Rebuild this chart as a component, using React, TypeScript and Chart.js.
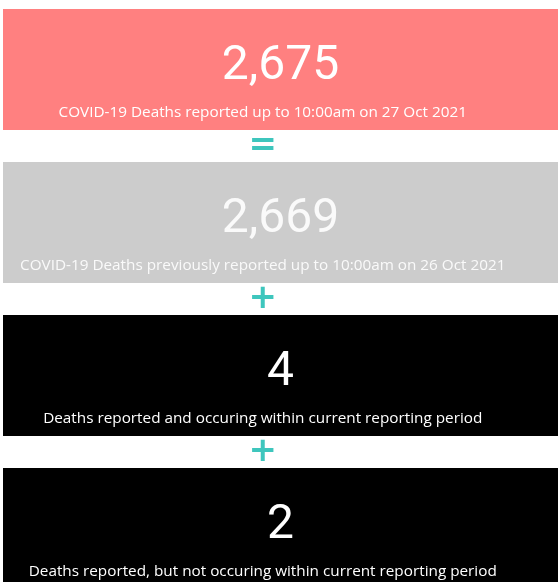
import React, { useEffect, useRef } from 'react';
import { Chart, registerables } from 'chart.js';

Chart.register(...registerables);

const categories = ['Total to date', 'Previously reported', 'Within current period', 'Outside current period'];
const values = [2675, 2669, 4, 2];
const descriptions = [
  'COVID-19 Deaths reported up to 10:00am on 27 Oct 2021',
  'COVID-19 Deaths previously reported up to 10:00am on 26 Oct 2021',
  'Deaths reported and occuring within current reporting period',
  'Deaths reported, but not occuring within current reporting period',
];
const operators = ['=', '+', '+'];
const panelColors = ['#FF8080', '#CCCCCC', '#000000', '#000000'];
const textColors = ['#FFFFFF', '#FAFAFA', '#FFFFFF', '#FFFFFF'];

const cardText = {
  id: 'cardText',
  afterDatasetsDraw(chart: any) {
    const { ctx, chartArea } = chart;
    const meta = chart.getDatasetMeta(0);
    const w = chartArea.right - chartArea.left;
    const numX = chartArea.left + w * 0.5;
    const labX = chartArea.left + w * 0.468;
    ctx.save();
    ctx.textAlign = 'center';
    ctx.textBaseline = 'middle';
    meta.data.forEach((bar: any, i: number) => {
      const cy = bar.y;
      ctx.fillStyle = textColors[i];
      ctx.font = '400 48px Roboto';
      ctx.fillText(values[i].toLocaleString('en-US'), numX, cy - 3);
      ctx.font = '15.3px "Open Sans"';
      ctx.fillText(descriptions[i], labX, cy + 43);
    });
    ctx.fillStyle = '#3EC6BD';
    ctx.font = 'bold 34px "DejaVu Sans"';
    operators.forEach((op, i) => {
      const a = meta.data[i];
      const b = meta.data[i + 1];
      if (!a || !b) return;
      const my = (a.y + b.y) / 2;
      ctx.fillText(op, labX, my);
    });
    ctx.restore();
  },
};

export default function App() {
  const ref = useRef<HTMLCanvasElement>(null);
  useEffect(() => {
    document.body.style.margin = '0';
    document.body.style.overflow = 'hidden';
    const chart = new Chart(ref.current!, {
      type: 'bar',
      data: {
        labels: categories,
        datasets: [
          {
            label: 'Deaths',
            data: categories.map(() => 1),
            backgroundColor: panelColors,
            borderWidth: 0,
            barPercentage: 0.79,
            categoryPercentage: 1,
          },
        ],
      },
      options: {
        indexAxis: 'y',
        responsive: false,
        animation: false,
        layout: { padding: 0 },
        plugins: { legend: { display: false }, tooltip: { enabled: false }, title: { display: false } },
        scales: {
          x: { display: false, min: 0, max: 1 },
          y: { display: false, offset: true },
        },
      },
      plugins: [cardText],
    });
    return () => chart.destroy();
  }, []);
  return (
    <div style={{ position: 'relative', width: 558, height: 582, overflow: 'hidden', background: '#fff' }}>
      <canvas
        ref={ref}
        width={555}
        height={612}
        style={{ position: 'absolute', left: 3, top: -7, width: 555, height: 612 }}
      />
    </div>
  );
}
